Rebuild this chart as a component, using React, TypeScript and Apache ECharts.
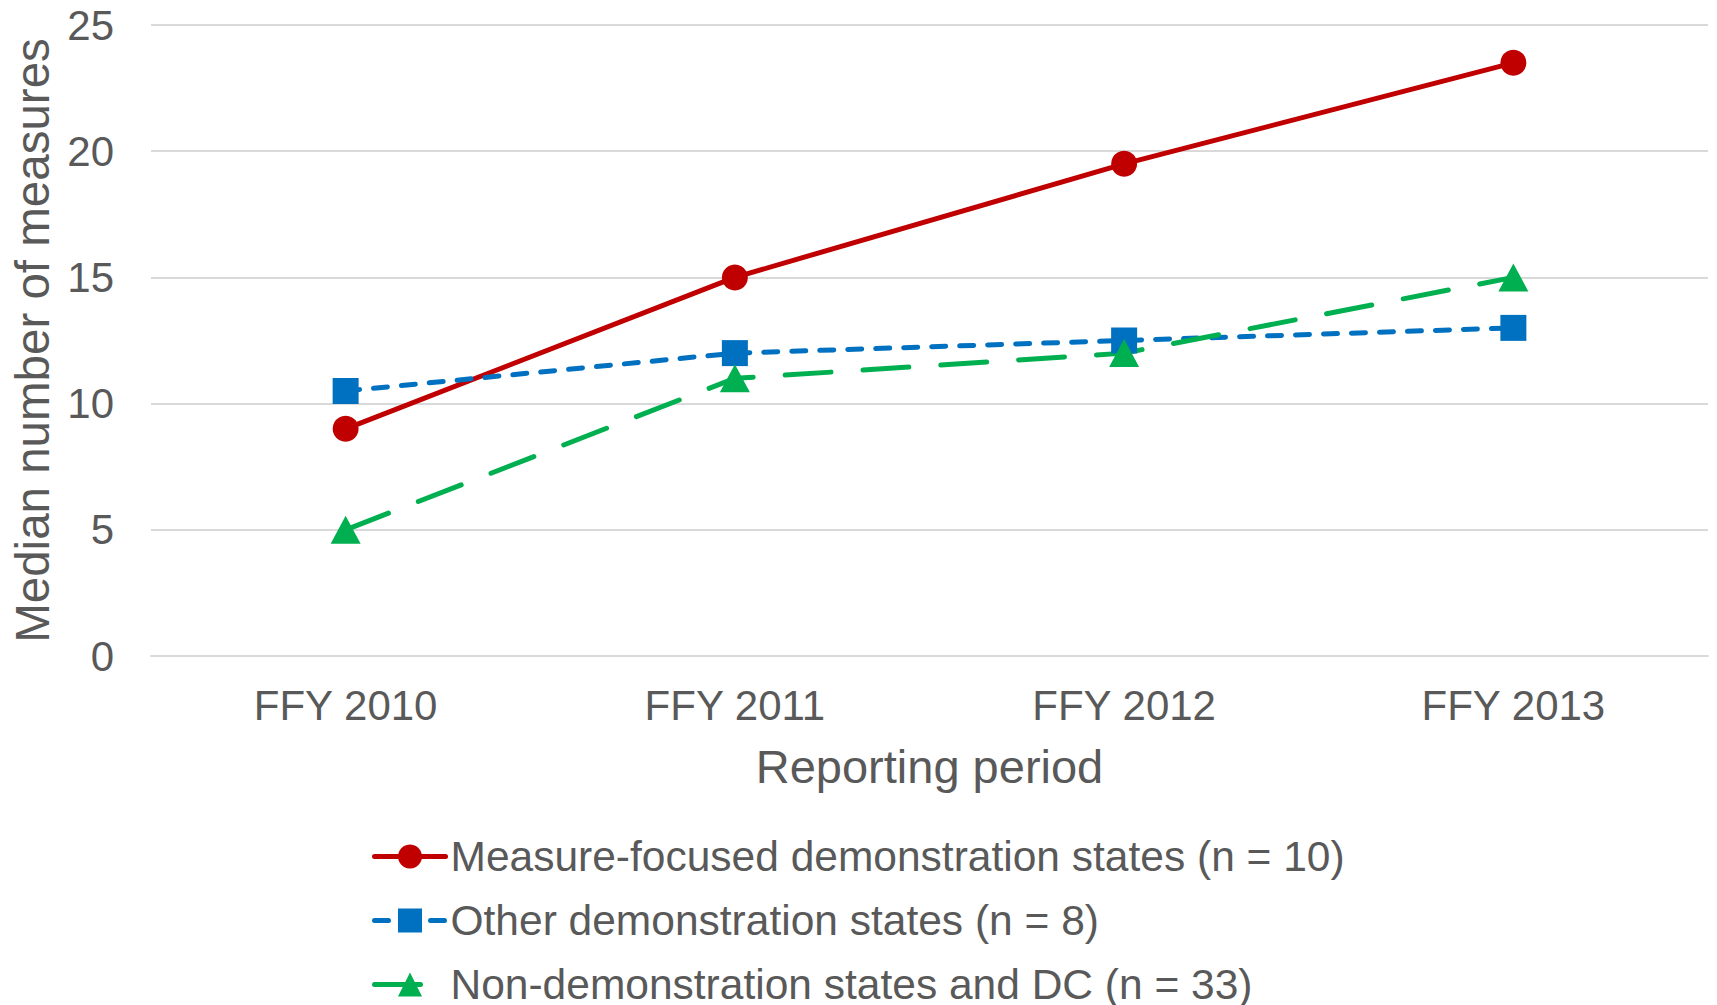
import React, { useEffect, useRef } from "react";
import * as echarts from "echarts";

const categories = ["FFY 2010", "FFY 2011", "FFY 2012", "FFY 2013"];
const measureFocused = [9, 15, 19.5, 23.5];
const otherDemo = [10.5, 12, 12.5, 13];
const nonDemo = [5, 11, 12, 15];
const seriesNames = [
  "Measure-focused demonstration states (n = 10)",
  "Other demonstration states (n = 8)",
  "Non-demonstration states and DC (n = 33)",
];

const FONT = 'Arial, "Liberation Sans", sans-serif';
const TEXT = "#595959";

export default function App() {
  const ref = useRef<HTMLDivElement>(null);
  useEffect(() => {
    if (!ref.current) return;
    const chart = echarts.init(ref.current, undefined, { renderer: "svg" });
    chart.setOption({
      animation: false,
      backgroundColor: "#ffffff",
      textStyle: { fontFamily: FONT },
      grid: { left: 150, right: 9, top: 25, bottom: 349, containLabel: false },
      xAxis: {
        type: "category",
        data: categories,
        boundaryGap: true,
        name: "Reporting period",
        nameLocation: "middle",
        nameGap: 87,
        nameTextStyle: { fontSize: 47, color: TEXT, fontFamily: FONT },
        axisLine: { show: true, lineStyle: { color: "#d9d9d9", width: 2 } },
        axisTick: { show: false },
        axisLabel: { fontSize: 42, color: TEXT, margin: 28, fontFamily: FONT },
      },
      yAxis: {
        type: "value",
        min: 0,
        max: 25,
        interval: 5,
        name: "Median number of measures",
        nameLocation: "middle",
        nameGap: 95,
        nameTextStyle: { fontSize: 47.5, color: TEXT, fontFamily: FONT },
        axisLine: { show: false },
        axisTick: { show: false },
        axisLabel: { fontSize: 42, color: TEXT, margin: 37, fontFamily: FONT },
        splitLine: { lineStyle: { color: "#d9d9d9", width: 2 } },
      },
      legend: {
        orient: "vertical",
        left: 372,
        top: 835,
        height: 240,
        padding: 0,
        itemWidth: 71,
        itemHeight: 30,
        itemGap: 21,
        lineStyle: { width: 5 },
        textStyle: { fontSize: 42.5, color: TEXT, fontFamily: FONT },
        data: seriesNames,
      },
      series: [
        {
          name: seriesNames[0],
          type: "line",
          data: measureFocused,
          symbol: "circle",
          symbolSize: 26,
          itemStyle: { color: "#C00000" },
          lineStyle: { color: "#C00000", width: 5, cap: "round" },
        },
        {
          name: seriesNames[1],
          type: "line",
          data: otherDemo,
          symbol: "rect",
          symbolSize: 26,
          itemStyle: { color: "#0070C0" },
          lineStyle: { color: "#0070C0", width: 5, type: [14, 14], cap: "round" },
        },
        {
          name: seriesNames[2],
          type: "line",
          data: nonDemo,
          symbol: "triangle",
          symbolSize: [30, 28],
          itemStyle: { color: "#00B050" },
          lineStyle: { color: "#00B050", width: 5, type: [46, 32], cap: "round" },
        },
      ],
    });
    return () => chart.dispose();
  }, []);
  return (
    <div
      ref={ref}
      style={{ position: "fixed", left: 0, top: 0, width: 1717, height: 1005 }}
    />
  );
}
